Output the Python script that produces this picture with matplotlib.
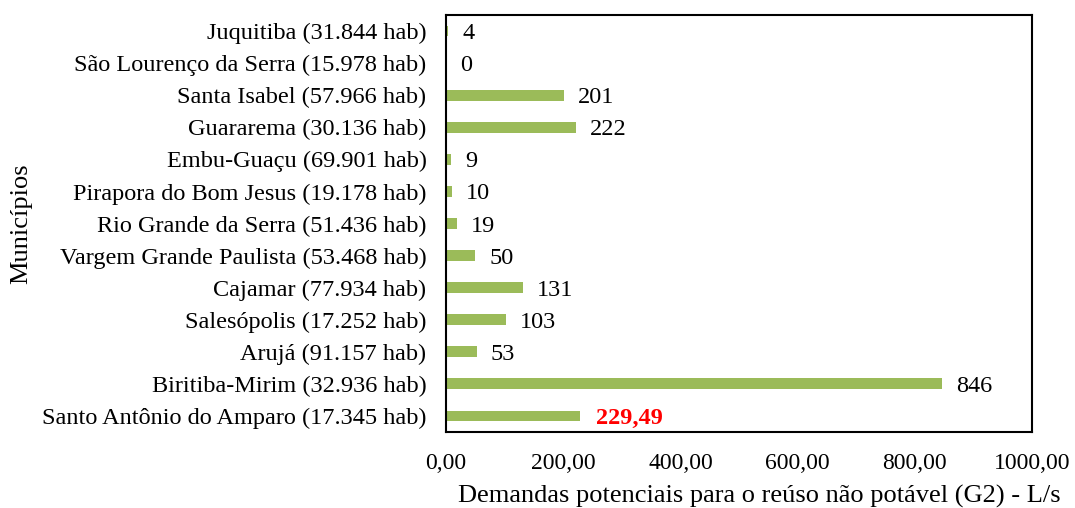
import matplotlib
matplotlib.use("Agg")
import matplotlib.pyplot as plt
from matplotlib.ticker import FuncFormatter

municipios = [
    "Juquitiba (31.844 hab)",
    "São Lourenço da Serra (15.978 hab)",
    "Santa Isabel (57.966 hab)",
    "Guararema (30.136 hab)",
    "Embu-Guaçu (69.901 hab)",
    "Pirapora do Bom Jesus (19.178 hab)",
    "Rio Grande da Serra (51.436 hab)",
    "Vargem Grande Paulista (53.468 hab)",
    "Cajamar (77.934 hab)",
    "Salesópolis (17.252 hab)",
    "Arujá (91.157 hab)",
    "Biritiba-Mirim (32.936 hab)",
    "Santo Antônio do Amparo (17.345 hab)",
]
demandas = [4, 0, 201, 222, 9, 10, 19, 50, 131, 103, 53, 846, 229.49]
rotulos = ["4", "0", "201", "222", "9", "10", "19", "50", "131", "103", "53", "846", "229,49"]
xticks = [0, 200, 400, 600, 800, 1000]

plt.rcParams['font.family'] = ['Liberation Serif', 'DejaVu Serif']

fig = plt.figure(figsize=(10.75, 5.08), dpi=100)
ax = fig.add_axes([446/1075, 1 - 432/508, (1032-446)/1075, (432-15)/508])

n = len(municipios)
ypos = list(range(n))[::-1]
ax.barh(ypos, demandas, height=0.34, color="#9BBB59")
ax.set_ylim(-0.5, n - 0.5)
ax.set_xlim(0, 1000)
ax.set_yticks(ypos)
ax.set_yticklabels(municipios, fontsize=17.5)
ax.set_xticks(xticks)
ax.xaxis.set_major_formatter(FuncFormatter(lambda v, p: f"{v:.2f}".replace(".", ",")))
ax.tick_params(axis='x', length=0, pad=15, labelsize=17)
ax.tick_params(axis='y', length=0, pad=14)

for y, v, lab in zip(ypos, demandas, rotulos):
    if lab == "229,49":
        ax.annotate(lab, (v, y), xytext=(11, 0), textcoords='offset points',
                    va='center_baseline', ha='left', fontsize=17.5,
                    color='red', fontweight='bold')
    else:
        ax.annotate(lab, (v, y), xytext=(10, 0), textcoords='offset points',
                    va='center_baseline', ha='left', fontsize=17.5)

for s in ax.spines.values():
    s.set_linewidth(1.5)
    s.set_color('black')

ax.set_xlabel("Demandas potenciais para o reúso não potável (G2) - L/s", fontsize=19)
ax.xaxis.set_label_coords(0.534, -0.126)
ax.set_ylabel("Municípios", fontsize=19)
ax.yaxis.set_label_coords(-0.706, 0.5)

fig.savefig("out.png", dpi=100)
